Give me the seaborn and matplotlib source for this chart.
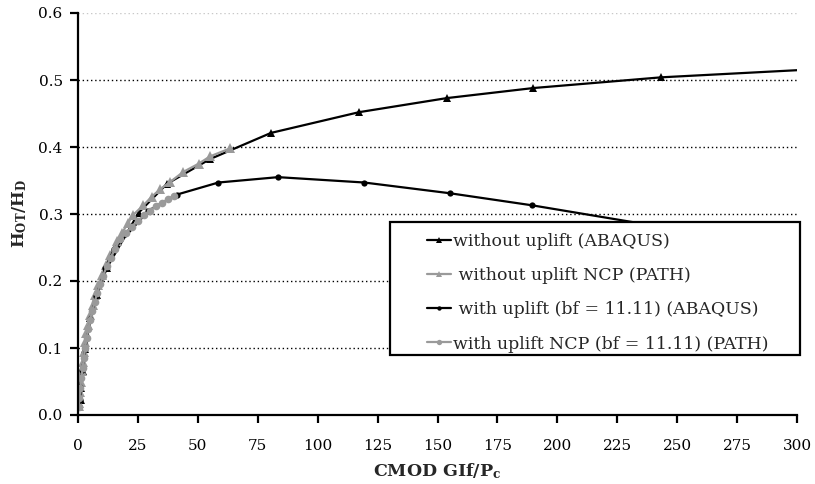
import numpy as np
import matplotlib
matplotlib.use('Agg')
import matplotlib.pyplot as plt
import seaborn as sns
from matplotlib.patches import Rectangle

# values
# without uplift, ABAQUS (black triangles)
x_abq = [0.3, 1.4, 1.4, 2.1, 3.0, 5.1, 7.9, 12.1, 25.3, 37.1, 55.1, 80.5, 117.3, 153.9, 190.0, 243.4, 302.0]
y_abq = [0.012, 0.022, 0.040, 0.065, 0.098, 0.145, 0.179, 0.220, 0.302, 0.345, 0.382, 0.421, 0.452, 0.473, 0.488, 0.504, 0.515]

# without uplift, NCP (PATH) (grey triangles)
x_ncp = [0.3, 0.5, 0.9, 1.2, 1.7, 2.0, 2.3, 3.0, 3.5, 4.0, 5.1, 6.1, 7.1, 8.5, 9.9, 11.7, 13.4,
         16.2, 18.2, 21.0, 23.1, 27.3, 30.8, 34.3, 38.5, 44.0, 50.3, 55.1, 63.5]
y_ncp = [0.013, 0.018, 0.035, 0.050, 0.065, 0.079, 0.094, 0.109, 0.122, 0.134, 0.149, 0.164, 0.179,
         0.194, 0.209, 0.224, 0.239, 0.259, 0.271, 0.287, 0.299, 0.313, 0.326, 0.337, 0.348, 0.363,
         0.375, 0.386, 0.398]

# with uplift (bf = 11.11), ABAQUS (black circles)
x_upl = [0.3, 1.0, 1.0, 1.7, 3.0, 5.1, 7.6, 11.4, 15.1, 29.4, 41.3, 58.6, 83.5, 119.4, 155.1, 189.4, 243.0, 302.0]
y_upl = [0.012, 0.022, 0.042, 0.067, 0.098, 0.144, 0.177, 0.219, 0.248, 0.305, 0.329, 0.347, 0.355,
         0.347, 0.331, 0.313, 0.281, 0.250]

# with uplift NCP (bf = 11.11), PATH (grey circles)
x_upl_ncp = [0.3, 0.6, 1.0, 1.4, 1.9, 2.4, 3.0, 3.6, 4.3, 5.0, 5.9, 6.9, 8.0, 9.2, 10.5, 12.0, 13.6,
             15.4, 17.5, 20.0, 22.5, 25.0, 27.5, 30.0, 32.5, 35.0, 37.5, 40.0]
y_upl_ncp = [0.012, 0.025, 0.040, 0.055, 0.070, 0.085, 0.100, 0.115, 0.128, 0.142, 0.155, 0.168,
             0.182, 0.195, 0.208, 0.222, 0.235, 0.248, 0.262, 0.272, 0.281, 0.290, 0.298, 0.305,
             0.312, 0.317, 0.322, 0.327]

labels = ['without uplift (ABAQUS)', ' without uplift NCP (PATH)',
          ' with uplift (bf = 11.11) (ABAQUS)', 'with uplift NCP (bf = 11.11) (PATH)']

sns.set_theme(style='ticks')
plt.rcParams['font.family'] = ['DejaVu Serif']
plt.rcParams['mathtext.fontset'] = 'dejavuserif'
plt.rcParams['mathtext.default'] = 'bf'

grey = '#9a9a9a'
fig = plt.figure(figsize=(8.15, 4.84), dpi=100)
ax = fig.add_axes([78/815, 69/484, 719/815, 402/484])

series = [
    (x_abq, y_abq, 'black', '^', 6, 1.6),
    (x_ncp, y_ncp, grey, '^', 6.5, 1.6),
    (x_upl, y_upl, 'black', 'o', 4.5, 1.6),
    (x_upl_ncp, y_upl_ncp, grey, 'o', 5.5, 1.6),
]
handles = []
for (xs, ys, c, m, ms, lw), lab in zip(series, labels):
    sns.lineplot(x=xs, y=ys, ax=ax, color=c, marker=m, markersize=ms,
                 markeredgecolor=c, markeredgewidth=0, linewidth=lw,
                 sort=False, estimator=None, label=lab, legend=False)
    handles.append(ax.lines[-1])

ax.set_xlim(0, 300)
ax.set_ylim(0, 0.6)
ax.set_xticks(np.arange(0, 301, 25))
ax.set_yticks(np.arange(0, 0.61, 0.1))
ax.set_yticklabels([f'{v:.1f}' for v in np.arange(0, 0.61, 0.1)])

ax.grid(axis='y', color='black', linestyle=(0, (1, 2)), linewidth=1.0)
gl = ax.get_ygridlines()
gl[0].set_visible(False)
gl[-1].set_color('#c8c8c8')

sns.despine(ax=ax)
for s in ['left', 'bottom']:
    ax.spines[s].set_linewidth(1.6)
    ax.spines[s].set_color('black')
ax.tick_params(direction='out', length=6, width=1.6, colors='black', labelsize=11)
ax.tick_params(axis='x', pad=11)
ax.tick_params(axis='y', pad=5)

ax.set_xlabel('CMOD GIf/P$_c$', fontsize=12.5, fontweight='bold', labelpad=6)
ax.set_ylabel('H$_{OT}$/H$_D$', fontsize=12, fontweight='bold', labelpad=7)

# legend box drawn as its own frame, like the original
frame = Rectangle((390/815, 1 - 355/484), 410/815, 133/484, transform=fig.transFigure,
                  facecolor='white', edgecolor='black', linewidth=1.6, zorder=4)
fig.add_artist(frame)
leg = fig.legend(handles=handles, labels=labels, loc='upper left',
                 bbox_to_anchor=(427/815, 1 - 233/484), frameon=False, borderpad=0,
                 borderaxespad=0, handlelength=1.38, handletextpad=0.12,
                 labelspacing=0.99, fontsize=12.5, markerscale=0.7)
leg.set_zorder(5)

fig.savefig('out.png', dpi=100)
